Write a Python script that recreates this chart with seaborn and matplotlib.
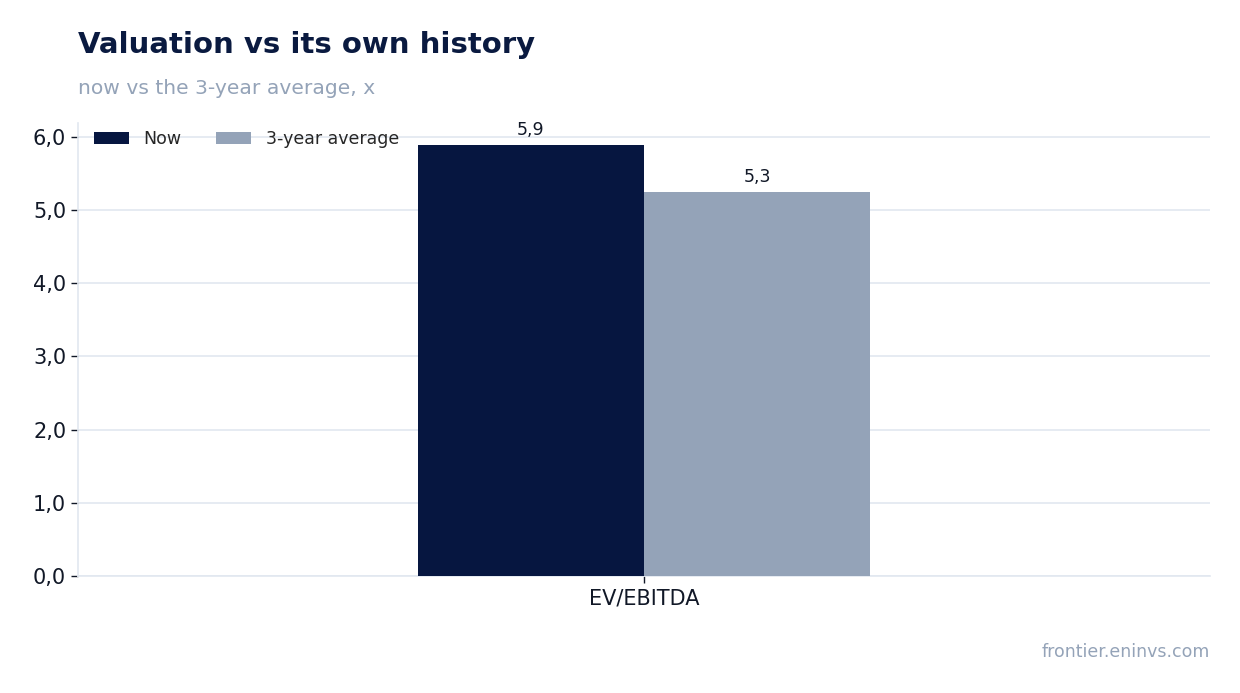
import seaborn as sns
import matplotlib.pyplot as plt
import pandas as pd

# Data
metrics = ['EV/EBITDA']
series_names = ['Now', '3-year average']
now_values = [5.89]
avg_values = [5.25]
bar_labels = ['5,9', '5,3']
colors = ['#061640', '#94A3B8']

data = pd.DataFrame({
    'metric': metrics * 2,
    'series': [series_names[0]] * len(metrics) + [series_names[1]] * len(metrics),
    'value': now_values + avg_values,
})

sns.set_style('white')
plt.rcParams['font.family'] = ['DejaVu Sans']

fig = plt.figure(figsize=(12.4, 6.93), dpi=100)
ax = fig.add_axes([78 / 1240, 1 - 576 / 693, 1132 / 1240, (576 - 123) / 693])

sns.barplot(data=data, x='metric', y='value', hue='series', palette=colors,
            width=0.4, saturation=1, linewidth=0, ax=ax, zorder=3)

for cont, lab in zip(ax.containers, bar_labels):
    ax.bar_label(cont, labels=[lab], padding=4, fontsize=12.5, color='#111827')

ax.set_xlim(-0.5, 0.5)
ax.set_ylim(0, 6.19)
ax.set_yticks([0, 1, 2, 3, 4, 5, 6])
ax.set_yticklabels([f'{v:.1f}'.replace('.', ',') for v in range(7)])
ax.yaxis.grid(True, color='#E2E8F0', linewidth=1.2, zorder=0)
ax.set_xlabel('')
ax.set_ylabel('')
ax.tick_params(axis='both', labelsize=15, colors='#111827', length=5, width=1, left=True, bottom=True)
ax.tick_params(axis='x', pad=4)
for s in ['top', 'right']:
    ax.spines[s].set_visible(False)
for s in ['left', 'bottom']:
    ax.spines[s].set_color('#E2E8F0')
    ax.spines[s].set_linewidth(1.2)

leg = ax.legend(loc='upper left', ncol=2, frameon=False, fontsize=12.5,
                bbox_to_anchor=(0.008, 1.0), handlelength=2.0, handleheight=0.7,
                handletextpad=0.85, columnspacing=2.0, borderaxespad=0.0)

fig.text(78 / 1240, 1 - 45 / 693, 'Valuation vs its own history', fontsize=21,
         fontweight='bold', color='#0A1A40', va='center', ha='left')
fig.text(78 / 1240, 1 - 88 / 693, 'now vs the 3-year average, x', fontsize=14.6,
         color='#94A3B8', va='center', ha='left')
fig.text(1210 / 1240, 1 - 652 / 693, 'frontier.eninvs.com', fontsize=12.5,
         color='#94A3B8', va='center', ha='right')

fig.savefig('out.png', dpi=100)
